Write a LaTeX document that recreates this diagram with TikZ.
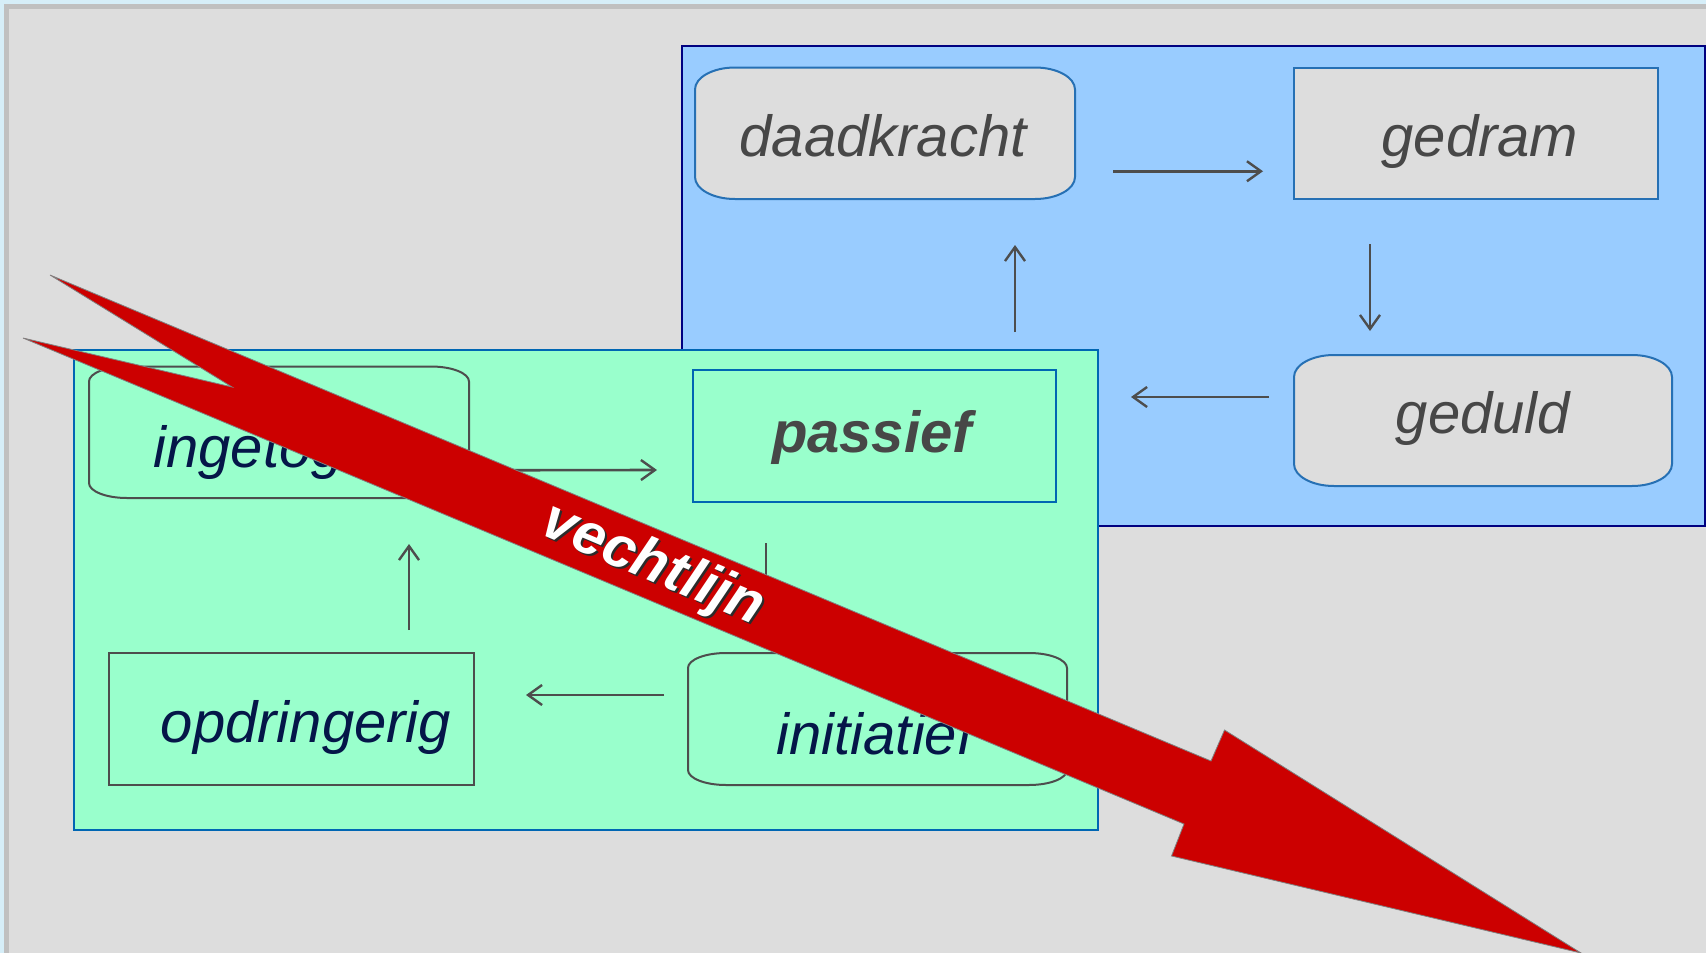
\documentclass[tikz,border=0pt]{standalone}
\usepackage{fontspec}
\setmainfont{Liberation Sans}
\usetikzlibrary{arrows.meta}
\definecolor{edgeblue}{HTML}{D6EEF8}
\definecolor{panelborder}{HTML}{C0C0C0}
\definecolor{panelfill}{HTML}{DDDDDD}
\definecolor{boxblue}{HTML}{99CCFF}
\definecolor{navyline}{HTML}{000080}
\definecolor{boxgreen}{HTML}{99FFCC}
\definecolor{greenline}{HTML}{0066B3}
\definecolor{nodeblue}{HTML}{2670B4}
\definecolor{nodegray}{HTML}{DDDDDD}
\definecolor{linegray}{HTML}{4D4D4D}
\definecolor{txtgray}{HTML}{474747}
\definecolor{txtnavy}{RGB}{5,22,72}
\definecolor{arrowred}{HTML}{CC0000}
\definecolor{redoutline}{HTML}{808080}
\definecolor{shadowgray}{HTML}{2B2B2B}
\newcommand\myovalbox[4]{%
  \path[#4] ([xshift=#2pt]#1.north west) -- ([xshift=-#2pt]#1.north east)
     arc[start angle=90,end angle=0,x radius=#2,y radius=#3]
     -- ([yshift=#3pt]#1.south east)
     arc[start angle=0,end angle=-90,x radius=#2,y radius=#3]
     -- ([xshift=#2pt]#1.south west)
     arc[start angle=270,end angle=180,x radius=#2,y radius=#3]
     -- ([yshift=-#3pt]#1.north west)
     arc[start angle=180,end angle=90,x radius=#2,y radius=#3] -- cycle;}
\begin{document}
\begin{tikzpicture}[x=1pt,y=1pt,
  frame/.style={shape=rectangle,inner sep=0pt,outer sep=0pt},
  arr/.style={draw=linegray,line width=2.6pt,
    -{Straight Barb[length=14pt,width=20pt,line width=2.4pt]}},
  lbl/.style={inner sep=0pt,anchor=base,font=\fontsize{58}{60}\selectfont\itshape},
  blueround/.style={fill=nodegray,draw=nodeblue,line width=2pt},
  grayround/.style={draw=linegray,line width=2pt},
  banner/.style={inner sep=0pt,rotate=-23,font=\fontsize{58}{60}\selectfont\bfseries\itshape}
]
\useasboundingbox (0,0) rectangle (1706,-953);
% background panel
\fill[edgeblue] (0,0) rectangle (1706,-953);
\draw[fill=panelfill,draw=panelborder,line width=5pt] (6.8,-6.8) rectangle (1730,-980);

% ---------- blue group ----------
\draw[fill=boxblue,draw=navyline,line width=2pt] (682,-45.7) rectangle (1705,-525.5);
\node[frame,minimum width=380pt,minimum height=131.5pt] (daad) at (885,-133.25) {};
\node[frame,minimum width=364pt,minimum height=131.5pt,fill=nodegray,draw=nodeblue,line width=2pt] (gedram) at (1476,-133.25) {};
\node[frame,minimum width=378pt,minimum height=131pt] (geduld) at (1483,-420.5) {};
\myovalbox{daad}{40}{22}{blueround}
\myovalbox{geduld}{40}{22}{blueround}
\node[lbl,text=txtgray] (daadT) at (883,-156) {daadkracht};
\node[lbl,text=txtgray] (gedramT) at (1480,-156) {gedram};
\node[lbl,text=txtgray] (geduldT) at (1483,-433) {geduld};
\coordinate (blueOutEnd) at (1131,-397);
\coordinate (blueInStart) at (1015,-332);
\draw[arr] ([xshift=38pt,yshift=-38pt]daad.east) -- ([xshift=-31pt,yshift=-38pt]gedram.west);
\draw[arr] ([xshift=-106pt,yshift=-45pt]gedram.south) -- ([xshift=-113pt,yshift=24pt]geduld.north);
\draw[arr] ([xshift=-25pt,yshift=23.5pt]geduld.west) -- (blueOutEnd);
\draw[arr] (blueInStart) -- ([xshift=130pt,yshift=-46pt]daad.south);

% ---------- green group ----------
\draw[fill=boxgreen,draw=greenline,line width=2pt] (74,-350) rectangle (1098,-830);
\node[frame,minimum width=380pt,minimum height=131.5pt] (inget) at (279,-432.25) {};
\node[frame,minimum width=363pt,minimum height=132pt,draw=greenline,line width=2pt] (passief) at (874.5,-436) {};
\node[frame,minimum width=379pt,minimum height=132pt] (init) at (877.5,-719) {};
\node[frame,minimum width=365pt,minimum height=132pt,draw=linegray,line width=2pt] (opdr) at (291.5,-719) {};
\myovalbox{inget}{38}{15}{grayround}
\myovalbox{init}{38}{15}{grayround}
\node[lbl,text=txtnavy] (ingetT) at (281,-467) {ingetogen};
\node[lbl,text=txtgray,font=\fontsize{58}{60}\selectfont\bfseries\itshape] (passiefT) at (872,-452) {passief};
\node[lbl,text=txtnavy] (initT) at (875,-754) {initiatief};
\node[lbl,text=txtnavy] (opdrT) at (306,-742) {opdringerig};
\draw[arr] ([xshift=38pt,yshift=-38pt]inget.east) -- ([xshift=-36pt,yshift=-34pt]passief.west);
\draw[arr] ([xshift=-108.5pt,yshift=-41pt]passief.south) -- ([xshift=-111.5pt,yshift=23pt]init.north);
\draw[arr] ([xshift=-24pt,yshift=24pt]init.west) -- ([xshift=52pt,yshift=24pt]opdr.east);
\draw[arr] ([xshift=117.5pt,yshift=23pt]opdr.north) -- ([xshift=130pt,yshift=-46pt]inget.south);

% ---------- red arrow ----------
\filldraw[fill=arrowred,draw=redoutline,line width=0.8pt,line join=miter]
  (50,-275) -- (1211,-761) -- (1224.5,-730) -- (1581,-953) -- (1171.5,-856)
  -- (1184,-824) -- (23,-338) -- (232,-387) -- cycle;
\node[banner,text=shadowgray] (vechtS) at (655,-568) {vechtlijn};
\node[banner,text=white] (vecht) at (653,-566) {vechtlijn};
\end{tikzpicture}
\end{document}
